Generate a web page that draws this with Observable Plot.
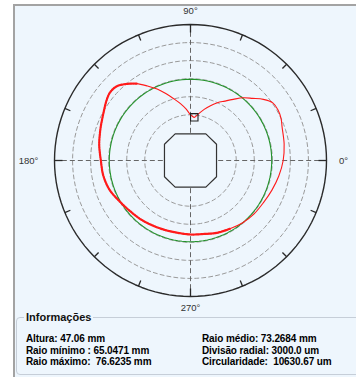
<!DOCTYPE html>
<html>
<head>
<meta charset="utf-8">
<script src="https://cdn.jsdelivr.net/npm/d3@7"></script>
<script src="https://cdn.jsdelivr.net/npm/@observablehq/plot@0.6"></script>
<style>
  html, body { margin: 0; padding: 0; background: #ffffff; }
  body { width: 356px; height: 377px; position: relative; overflow: hidden; font-family: "Liberation Sans", Arial, sans-serif; }
  #panel { position: absolute; left: 13px; top: 4px; width: 343px; height: 373px; background: #eef6fd;
           border-left: 2px solid #a3a3a3; border-top: 2px solid #a3a3a3; box-sizing: border-box; }
  #chart { position: absolute; left: 0; top: 0; }
  #chart svg { background: transparent !important; }
  #info { position: absolute; left: 16px; top: 317px; width: 350px; height: 58px; border: 1px solid #c6ced8;
          border-radius: 4px; box-sizing: border-box; }
  #infoTitle { position: absolute; left: 24px; top: 311px; font-weight: bold; font-size: 11px; color: #111;
               background: #eef6fd; padding: 0 2px; }
  .col { position: absolute; top: 333px; font-weight: bold; font-size: 10px; line-height: 11.5px; color: #000;
         white-space: pre; letter-spacing: -0.1px; }
</style>
</head>
<body>
<div id="panel"></div>
<div id="chart"></div>
<div id="info"></div>
<div id="infoTitle">Informações</div>
<div class="col" id="colL" style="left:26px"></div>
<div class="col" id="colR" style="left:202px"></div>
<script>
// ---- data ----
const angles = [0,10,20,25,30,35,40,45,50,55,60,65,70,75,80,85,88,90,95,100,105,110,115,120,125,130,135,140,145,150,155,160,170,180,190,200,210,220,230,240,250,260,270,280,290,300,310,320,330,340,350];
const redRadiusMm = [72.8,73.2,73.6,74.0,74.2,74.1,73.2,72.0,71.0,69.8,68.8,68.0,67.1,66.2,65.3,64.6,64.8,65.0,66.0,67.0,68.0,69.2,70.5,71.7,73.0,74.0,74.8,74.9,74.5,74.0,73.6,73.3,72.8,72.3,72.1,71.7,71.0,70.5,70.2,69.9,69.7,69.6,69.7,69.8,70.2,70.5,70.9,71.2,71.4,71.8,72.3];
const referenceCircleMm = 70.9;
const ringRadiiMm = [62, 65, 68, 71, 74, 77, 80];      // inner solid, dashed..., outer solid
const innerPolygonAngles = [32, 60, 120, 148, 212, 240, 300, 328];
const innerPolygonMm = 62.5;
const tickAngles = [0, 22.5, 45, 67.5, 90, 112.5, 135, 157.5, 180, 202.5, 225, 247.5, 270, 292.5, 315, 337.5];
const axisAngles = [0, 90, 180, 270];
const angleLabels = ["0°", "90°", "180°", "270°"];
const noisyFrom = 125, noisyTo = 300;
const infoLeft = ["Altura: 47.06 mm", "Raio mínimo : 65.0471 mm", "Raio máximo:  76.6235 mm"];
const infoRight = ["Raio médio: 73.2684 mm", "Divisão radial: 3000.0 um", "Circularidade:  10630.67 um"];

// ---- geometry helpers ----
const origin = 57.4;                        // radius value at the centre of the display
const R = ringRadiiMm[ringRadiiMm.length - 1] - origin;
const rad = d => d * Math.PI / 180;
const pt = (angDeg, mm) => ({x: (mm - origin) * Math.cos(rad(angDeg)), y: (mm - origin) * Math.sin(rad(angDeg))});

const red = angles.map((a, i) => ({a, ...pt(a, redRadiusMm[i])}));
const redNoisy = red.filter(d => d.a >= noisyFrom && d.a <= noisyTo);
const circleSteps = d3.range(0, 361, 3);
const rings = ringRadiiMm.slice(1, -1).flatMap((m, k) => circleSteps.map(a => ({k, ...pt(a, m)})));
const outer = circleSteps.map(a => pt(a, ringRadiiMm[ringRadiiMm.length - 1]));
const green = circleSteps.map(a => pt(a, referenceCircleMm));
const inner = innerPolygonAngles.map(a => pt(a, innerPolygonMm));
const axes = axisAngles.map(a => ({p1: pt(a, ringRadiiMm[0]), p2: pt(a, ringRadiiMm[ringRadiiMm.length - 1])}));
const pxPerUnit = 272 / (2 * R);
const tickLen = t => (axisAngles.includes(t) ? 8 : 6) / pxPerUnit;
const ticks = tickAngles.map(t => ({t, p1: pt(t, origin + R), p2: pt(t, origin + R - tickLen(t))}));
const iMin = d3.minIndex(redRadiusMm);
const minPoint = [pt(angles[iMin], redRadiusMm[iMin])];
const labelOffsets = [17, 14, 26, 11];       // px outside the outer circle, per label
const labels = axisAngles.map((a, i) => ({text: angleLabels[i], ...pt(a, origin + R + labelOffsets[i] / pxPerUnit)}));

const chart = Plot.plot({
  width: 356, height: 312,
  marginLeft: 54, marginRight: 30, marginTop: 24, marginBottom: 16,
  x: {domain: [-R, R], axis: null},
  y: {domain: [-R, R], axis: null},
  style: {background: "transparent", overflow: "visible"},
  marks: [
    Plot.line(rings, {x: "x", y: "y", z: "k", stroke: "#9a9a9a", strokeWidth: 1, strokeDasharray: "4,3"}),
    Plot.link(axes, {x1: d => d.p1.x, y1: d => d.p1.y, x2: d => d.p2.x, y2: d => d.p2.y, stroke: "#666", strokeWidth: 1, strokeDasharray: "5,3"}),
    Plot.line(outer, {x: "x", y: "y", stroke: "#2a2a2a", strokeWidth: 1.4}),
    Plot.link(ticks, {x1: d => d.p1.x, y1: d => d.p1.y, x2: d => d.p2.x, y2: d => d.p2.y, stroke: "#2a2a2a", strokeWidth: 1.3}),
    Plot.line(inner, {x: "x", y: "y", stroke: "#333", strokeWidth: 1.2, curve: "linear-closed"}),
    Plot.line(green, {x: "x", y: "y", stroke: "#22922a", strokeWidth: 1.1}),
    Plot.line(red, {x: "x", y: "y", stroke: "#ff1a1a", strokeWidth: 1.1, curve: "catmull-rom-closed"}),
    Plot.line(redNoisy, {x: "x", y: "y", stroke: "#ff1a1a", strokeWidth: 2.2, strokeDasharray: "1.5,1", curve: "catmull-rom"}),
    Plot.dot(minPoint, {x: "x", y: "y", symbol: "square", r: 4.2, stroke: "#222", strokeWidth: 1.1, fill: "none"}),
    Plot.text(labels, {x: "x", y: "y", text: "text", fontSize: 9.5, fill: "#333", fontFamily: "Liberation Sans, Arial, sans-serif"})
  ]
});
document.getElementById("chart").appendChild(chart);
document.getElementById("colL").textContent = infoLeft.join("\n");
document.getElementById("colR").textContent = infoRight.join("\n");
</script>
</body>
</html>
